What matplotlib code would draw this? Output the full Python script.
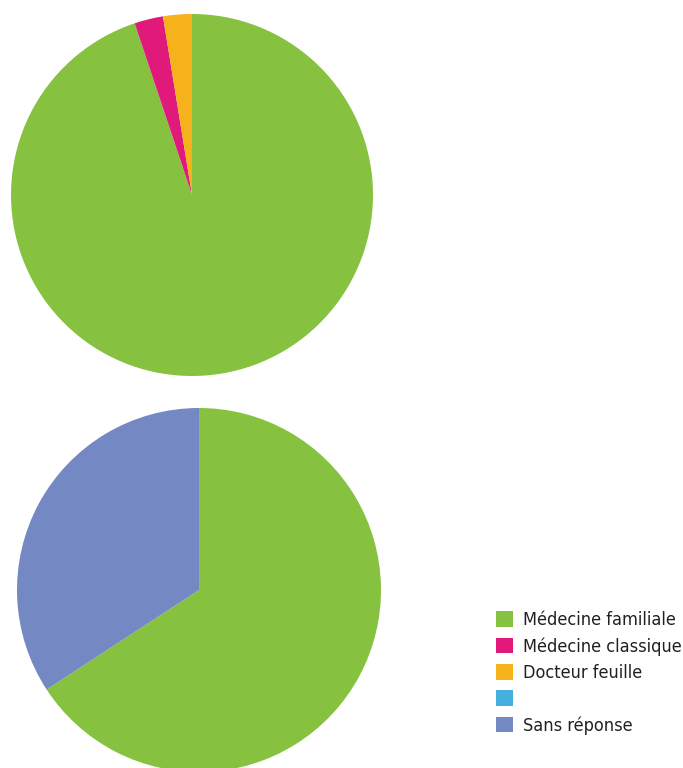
import matplotlib.pyplot as plt
from matplotlib.patches import Patch
from matplotlib.font_manager import FontProperties

labels = ["Médecine familiale", "Médecine classique", "Docteur feuille", "", "Sans réponse"]
colors = ["#86c240", "#e0197b", "#f5b21b", "#45b0e0", "#7488c4"]

# top pie: familiale, classique, feuille
top_vals = [37, 1, 1]
# bottom pie: familiale, sans reponse
bottom_vals = [25, 13]

fig = plt.figure(figsize=(6.83, 7.68), dpi=100)
W, H = 683, 768

def pie_axes(cx, cy, r):
    return fig.add_axes([(cx - r) / W, (H - cy - r) / H, 2 * r / W, 2 * r / H])

ax1 = pie_axes(192, 195, 181)
ax1.pie(top_vals, colors=colors[:3], startangle=90, counterclock=False,
        wedgeprops=dict(linewidth=0))
ax1.set_xlim(-1, 1)
ax1.set_ylim(-1, 1)

ax2 = pie_axes(199, 590, 182)
ax2.pie(bottom_vals, colors=[colors[0], colors[4]], startangle=90, counterclock=False,
        wedgeprops=dict(linewidth=0))
ax2.set_xlim(-1, 1)
ax2.set_ylim(-1, 1)

font = FontProperties(family="DejaVu Sans", stretch="condensed", size=13)
handles = [Patch(facecolor=c, edgecolor="none") for c in colors]
fig.legend(handles, labels, loc="upper left", bbox_to_anchor=(489 / W, 1 - 604 / H),
           frameon=False, handlelength=0.95, handleheight=0.95, handletextpad=0.55,
           labelspacing=0.45, prop=font, labelcolor="#231f20", borderaxespad=0)

fig.savefig("out.png", dpi=100)
